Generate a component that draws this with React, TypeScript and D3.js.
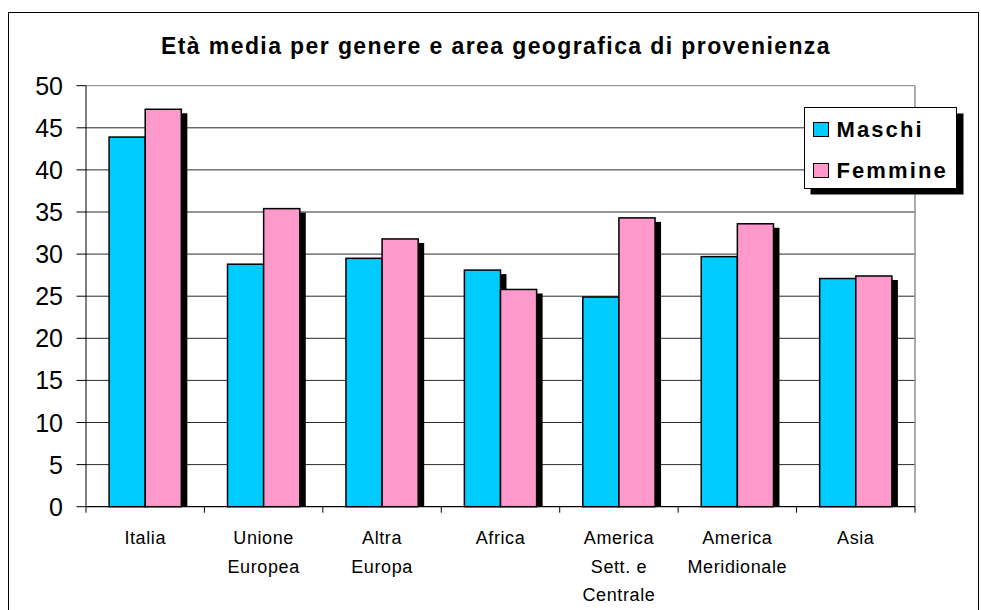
import React from "react";
import * as d3 from "d3";

const categories: string[][] = [
  ["Italia"],
  ["Unione", "Europea"],
  ["Altra", "Europa"],
  ["Africa"],
  ["America", "Sett. e", "Centrale"],
  ["America", "Meridionale"],
  ["Asia"],
];
const categoryKeys = ["Italia", "Unione Europea", "Altra Europa", "Africa", "America Sett. e Centrale", "America Meridionale", "Asia"];
const maschi = [43.9, 28.8, 29.5, 28.1, 24.9, 29.7, 27.1];
const femmine = [47.2, 35.4, 31.8, 25.8, 34.3, 33.6, 27.4];
const seriesNames = ["Maschi", "Femmine"];
const seriesColors = ["#00CCFF", "#FF99CC"];
const yTicks = [0, 5, 10, 15, 20, 25, 30, 35, 40, 45, 50];
const title = "Età media per genere e area geografica di provenienza";

const FONT = "'Liberation Sans', Arial, sans-serif";

export default function App() {
  const W = 981, H = 610;
  const left = 86, right = 915, top = 85.7, bottom = 506.7;
  const x = d3.scaleBand<string>().domain(categoryKeys).range([left, right]).padding(0);
  const y = d3.scaleLinear().domain([0, 50]).range([bottom, top]);
  const bw = x.bandwidth() * 0.305;
  const series = [maschi, femmine];
  const sdx = 6, sdy = 4;

  return (
    <svg width={W} height={H} style={{ position: "absolute", left: 0, top: 0, background: "#fff" }} fontFamily={FONT}>
      <rect x={0} y={0} width={W} height={H} fill="#fff" />
      {/* outer frame */}
      <rect x={8.5} y={12.5} width={970} height={620} fill="none" stroke="#000" strokeWidth={1} />
      {/* title */}
      <text x={496} y={54} textAnchor="middle" fontSize={23} fontWeight="bold" letterSpacing={1.4} fill="#000">{title}</text>
      {/* gridlines */}
      {yTicks.filter(t => t > 0).map(t => (
        <line key={"g" + t} x1={left} x2={right} y1={y(t)} y2={y(t)} stroke={t === 50 ? "#808080" : "#2a2a2a"} strokeWidth={1} />
      ))}
      {/* plot right border */}
      <line x1={right} x2={right} y1={top} y2={bottom} stroke="#909090" strokeWidth={1.5} />
      {/* y axis */}
      <line x1={left} x2={left} y1={top} y2={bottom + 6} stroke="#000" strokeWidth={1} />
      {yTicks.map(t => (
        <g key={"yt" + t}>
          <line x1={left - 9.5} x2={left} y1={y(t)} y2={y(t)} stroke="#000" strokeWidth={1} />
          <text x={63} y={y(t)} dy="0.36em" textAnchor="end" fontSize={25} fill="#000">{t}</text>
        </g>
      ))}
      {/* shadows */}
      {categoryKeys.map((c, i) => series.map((s, j) => {
        const bx = (x(c) as number) + x.bandwidth() / 2 - bw + j * bw;
        return (
          <rect key={"s" + i + j} x={bx + sdx} y={y(s[i]) + sdy} width={bw} height={bottom - y(s[i]) - sdy} fill="#000" />
        );
      }))}
      {/* bars */}
      {categoryKeys.map((c, i) => series.map((s, j) => {
        const bx = (x(c) as number) + x.bandwidth() / 2 - bw + j * bw;
        return (
          <rect key={"b" + i + j} x={bx} y={y(s[i])} width={bw} height={bottom - y(s[i])} fill={seriesColors[j]} stroke="#000" strokeWidth={1.5} />
        );
      }))}
      {/* x axis */}
      <line x1={left} x2={right} y1={bottom} y2={bottom} stroke="#000" strokeWidth={1.2} />
      {categoryKeys.map((c, i) => (
        <line key={"xt" + i} x1={(x(c) as number) + x.bandwidth()} x2={(x(c) as number) + x.bandwidth()} y1={bottom} y2={bottom + 6} stroke="#000" strokeWidth={1} />
      ))}
      {categories.map((lines, i) => (
        <text key={"xl" + i} x={(x(categoryKeys[i]) as number) + x.bandwidth() / 2} y={544} textAnchor="middle" fontSize={18} letterSpacing={0.6} fill="#000">
          {lines.map((l, k) => (
            <tspan key={k} x={(x(categoryKeys[i]) as number) + x.bandwidth() / 2} dy={k === 0 ? 0 : 28.5}>{l}</tspan>
          ))}
        </text>
      ))}
      {/* legend */}
      <rect x={810.5} y={113.5} width={153} height={81} fill="#000" />
      <rect x={804.5} y={107.5} width={152} height={81} fill="#fff" stroke="#000" strokeWidth={1} />
      {seriesNames.map((n, j) => (
        <g key={"lg" + j}>
          <rect x={813.5} y={122.5 + j * 41} width={15} height={14} fill={seriesColors[j]} stroke="#000" strokeWidth={1} />
          <text x={836.5} y={137 + j * 41} fontSize={22} fontWeight="bold" letterSpacing={2.1} fill="#000">{n}</text>
        </g>
      ))}
    </svg>
  );
}
